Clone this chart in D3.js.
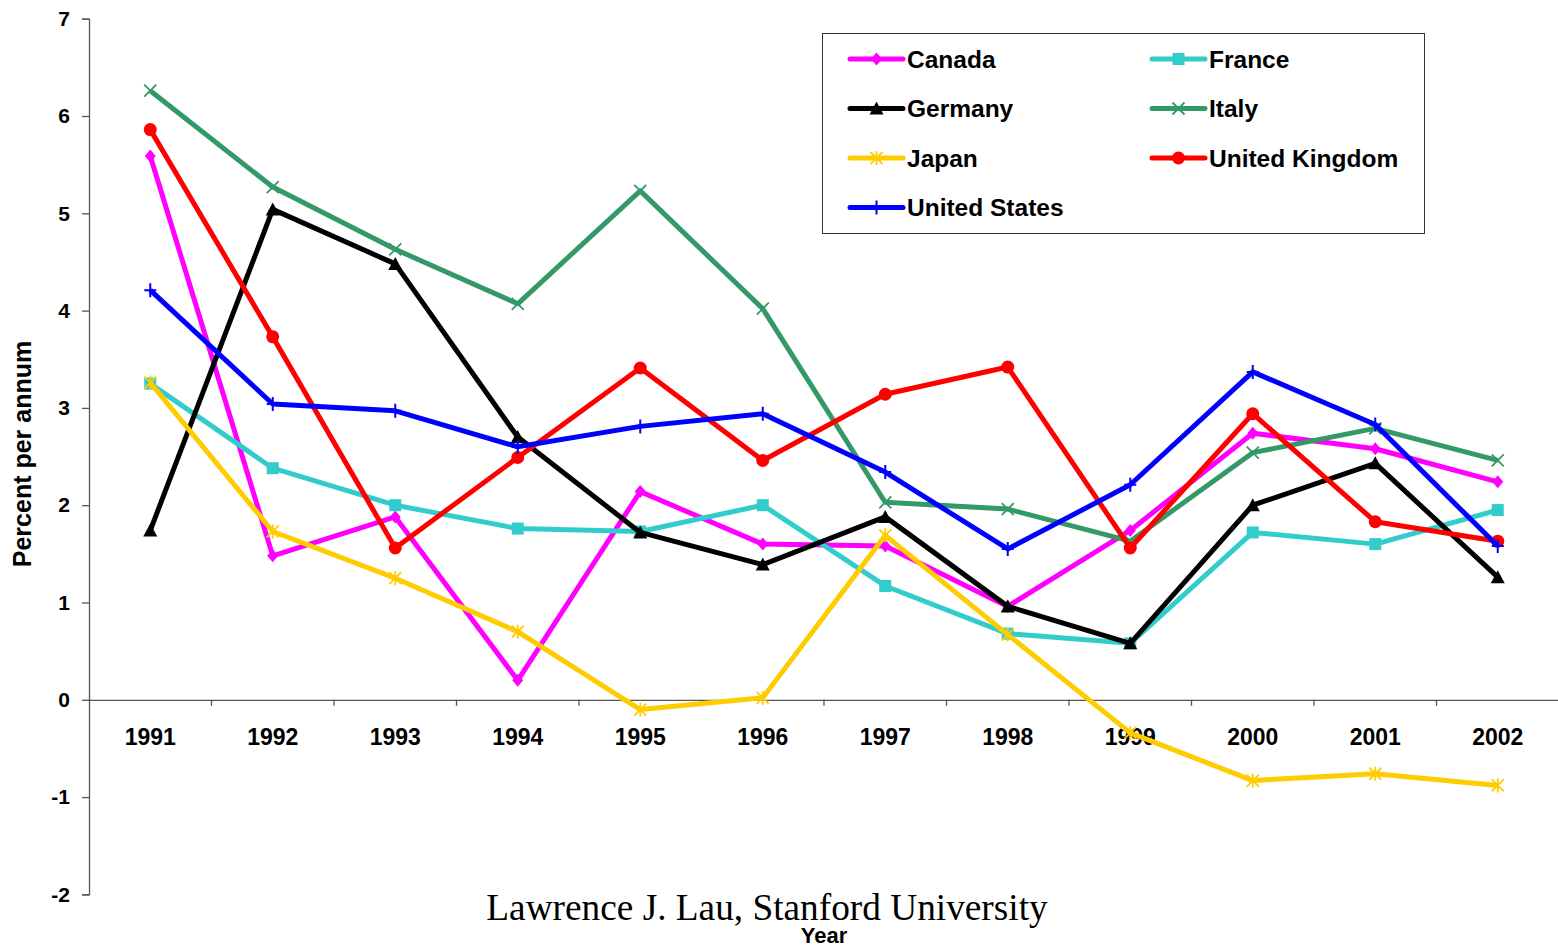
<!DOCTYPE html>
<html lang="en">
  <head>
    <meta charset="UTF-8" />
    <title>Inflation rates, G7</title>
    <script src="https://d3js.org/d3.v7.min.js"></script>
    <style>
      body {
        margin: 0;
        background: #fff;
      }
      .tick text {
        font-family: "Liberation Sans", Arial, sans-serif;
        font-weight: bold;
        fill: #000;
      }
      .y-axis .tick text {
        font-size: 21px;
      }
      .x-axis .tick text {
        font-size: 23px;
      }
      .legend text {
        font-family: "Liberation Sans", Arial, sans-serif;
        font-weight: bold;
        font-size: 24.5px;
      }
    </style>
  </head>
  <body>
    <svg width="1558" height="948"></svg>
    <script>
      const years = ["1991", "1992", "1993", "1994", "1995", "1996", "1997", "1998", "1999", "2000", "2001", "2002"];
      const yTicks = [-2, -1, 0, 1, 2, 3, 4, 5, 6, 7];

      const canada = [5.59, 1.48, 1.88, 0.2, 2.14, 1.6, 1.58, 0.96, 1.74, 2.74, 2.58, 2.24];
      const france = [3.25, 2.38, 2.0, 1.76, 1.73, 2.0, 1.17, 0.68, 0.58, 1.72, 1.6, 1.95];
      const germany = [1.74, 5.04, 4.48, 2.7, 1.72, 1.39, 1.88, 0.96, 0.58, 2.0, 2.43, 1.26];
      const italy = [6.26, 5.27, 4.63, 4.07, 5.23, 4.02, 2.03, 1.96, 1.63, 2.54, 2.79, 2.46];
      const japan = [3.26, 1.73, 1.25, 0.7, -0.1, 0.02, 1.69, 0.67, -0.34, -0.83, -0.76, -0.88];
      const uk = [5.86, 3.73, 1.56, 2.49, 3.41, 2.46, 3.14, 3.42, 1.56, 2.94, 1.83, 1.63];
      const us = [4.21, 3.04, 2.97, 2.6, 2.81, 2.94, 2.34, 1.55, 2.21, 3.37, 2.83, 1.58];

      const series = [
        { name: "Canada", values: canada, color: "#ff00ff", marker: "diamond" },
        { name: "France", values: france, color: "#33cccc", marker: "square" },
        { name: "Germany", values: germany, color: "#000000", marker: "triangle" },
        { name: "Italy", values: italy, color: "#339966", marker: "x" },
        { name: "Japan", values: japan, color: "#ffcc00", marker: "asterisk" },
        { name: "United Kingdom", values: uk, color: "#ff0000", marker: "circle" },
        { name: "United States", values: us, color: "#0000ff", marker: "plus" },
      ];

      const svg = d3.select("svg");
      const plotLeft = 89, plotRight = 1559, plotTop = 18.7, plotBottom = 894.4;

      const x = d3.scaleBand().domain(years).range([plotLeft, plotRight]);
      const y = d3.scaleLinear().domain([-2, 7]).range([plotBottom, plotTop]);

      // y axis (plain hyphen for negatives, like the original)
      const yAxis = svg
        .append("g")
        .attr("class", "y-axis")
        .attr("transform", `translate(${plotLeft},0)`)
        .call(
          d3.axisLeft(y).tickValues(yTicks).tickSize(7).tickPadding(12).tickFormat((d) => String(d))
        );
      yAxis.select(".domain").attr("stroke", "#555").attr("stroke-width", 1.3);
      yAxis.selectAll(".tick line").attr("stroke", "#555").attr("stroke-width", 1.3);

      // x axis at zero, labels below
      const xAxis = svg
        .append("g")
        .attr("class", "x-axis")
        .attr("transform", `translate(0,${y(0)})`)
        .call(d3.axisBottom(x).tickSize(0).tickPadding(29));
      xAxis.select(".domain").attr("stroke", "#555").attr("stroke-width", 1.3);
      // tick marks between categories
      xAxis
        .selectAll("line.sep")
        .data(years.slice(1))
        .enter()
        .append("line")
        .attr("class", "sep")
        .attr("x1", (d) => x(d))
        .attr("x2", (d) => x(d))
        .attr("y1", 0)
        .attr("y2", 6)
        .attr("stroke", "#555")
        .attr("stroke-width", 1.3);

      // titles
      svg
        .append("text")
        .attr("transform", `translate(31,${454}) rotate(-90)`)
        .attr("text-anchor", "middle")
        .style("font-family", "'Liberation Sans', Arial, sans-serif")
        .style("font-weight", "bold")
        .style("font-size", "25px")
        .text("Percent per annum");

      svg
        .append("text")
        .attr("x", 824)
        .attr("y", 943)
        .attr("text-anchor", "middle")
        .style("font-family", "'Liberation Sans', Arial, sans-serif")
        .style("font-weight", "bold")
        .style("font-size", "22px")
        .text("Year");

      svg
        .append("text")
        .attr("x", 767)
        .attr("y", 920)
        .attr("text-anchor", "middle")
        .style("font-family", "'Liberation Serif', 'Times New Roman', serif")
        .style("font-size", "37.3px")
        .text("Lawrence J. Lau, Stanford University");

      const cx = (i) => x(years[i]) + x.bandwidth() / 2;

      const line = d3
        .line()
        .x((d, i) => cx(i))
        .y((d) => y(d));

      function drawMarker(g, type, color) {
        if (type === "diamond") {
          g.append("path").attr("d", "M0,-6.5L5.5,0L0,6.5L-5.5,0Z").attr("fill", color);
        } else if (type === "square") {
          g.append("rect").attr("x", -6).attr("y", -6).attr("width", 12).attr("height", 12).attr("fill", color);
        } else if (type === "triangle") {
          g.append("path").attr("d", "M0,-7L7,6L-7,6Z").attr("fill", color);
        } else if (type === "circle") {
          g.append("circle").attr("r", 6.5).attr("fill", color);
        } else if (type === "x") {
          g.append("path").attr("d", "M-6,-6L6,6M-6,6L6,-6").attr("stroke", color).attr("stroke-width", 1.8);
        } else if (type === "asterisk") {
          g.append("path")
            .attr("d", "M-6,-6L6,6M-6,6L6,-6M0,-7L0,7")
            .attr("stroke", color)
            .attr("stroke-width", 1.8);
        } else if (type === "plus") {
          g.append("path").attr("d", "M-6,0L6,0M0,-7L0,7").attr("stroke", color).attr("stroke-width", 2);
        }
      }

      const plot = svg.append("g");
      series.forEach((s) => {
        plot
          .append("path")
          .datum(s.values)
          .attr("d", line)
          .attr("fill", "none")
          .attr("stroke", s.color)
          .attr("stroke-width", 5)
          .attr("stroke-linejoin", "round");
        s.values.forEach((v, i) => {
          const g = plot.append("g").attr("transform", `translate(${cx(i)},${y(v)})`);
          drawMarker(g, s.marker, s.color);
        });
      });

      // legend
      const legend = svg.append("g").attr("class", "legend");
      legend
        .append("rect")
        .attr("x", 822.5)
        .attr("y", 33.5)
        .attr("width", 602)
        .attr("height", 200)
        .attr("fill", "#fff")
        .attr("stroke", "#333")
        .attr("stroke-width", 1);

      series.forEach((s, i) => {
        const col = i % 2, row = Math.floor(i / 2);
        const lx = 850 + col * 302, ly = 59 + row * 49.5;
        const g = legend.append("g").attr("transform", `translate(${lx},${ly})`);
        g.append("line")
          .attr("x1", 0)
          .attr("x2", 53)
          .attr("stroke", s.color)
          .attr("stroke-width", 5)
          .attr("stroke-linecap", "round");
        drawMarker(g.append("g").attr("transform", "translate(26.5,0)"), s.marker, s.color);
        g.append("text").attr("x", 57).attr("dy", "0.36em").text(s.name);
      });
    </script>
  </body>
</html>
